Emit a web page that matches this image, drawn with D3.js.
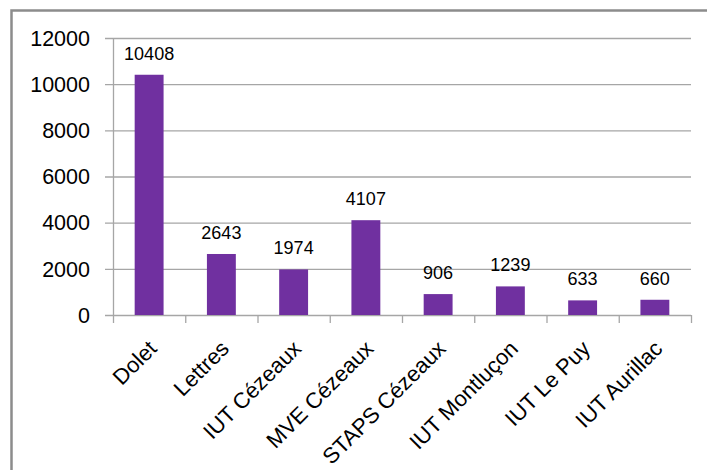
<!DOCTYPE html>
<html>
<head>
<meta charset="utf-8">
<script src="https://cdn.jsdelivr.net/npm/d3@7"></script>
<style>
  body { margin: 0; background: #fff; }
  text { font-family: "Liberation Sans", Arial, sans-serif; fill: #000; }
</style>
</head>
<body>
<svg id="chart" width="707" height="470"></svg>
<script>
const categories = ['Dolet', 'Lettres', 'IUT Cézeaux', 'MVE Cézeaux', 'STAPS Cézeaux', 'IUT Montluçon', 'IUT Le Puy', 'IUT Aurillac']
const values = [10408, 2643, 1974, 4107, 906, 1239, 633, 660]
const yTicks = [0, 2000, 4000, 6000, 8000, 10000, 12000]

const width = 707, height = 470
const plot = {left: 113, right: 691, top: 38, bottom: 315}

const svg = d3.select('#chart')

// outer frame (only top and left edges are inside the picture)
svg.append('rect')
   .attr('x', 11.5).attr('y', 10.5)
   .attr('width', 720).attr('height', 500)
   .attr('fill', 'none')
   .attr('stroke', '#8c8c8c')
   .attr('stroke-width', 2.5)

const x = d3.scaleBand().domain(categories).range([plot.left, plot.right]).paddingInner(0.6).paddingOuter(0.3)
const xTick = d3.scaleBand().domain(categories).range([plot.left, plot.right])
const y = d3.scaleLinear().domain([0, 12000]).range([plot.bottom, plot.top])

// gridlines
svg.append('g').selectAll('line').data(yTicks).enter().append('line')
   .attr('x1', plot.left - 8).attr('x2', plot.right)
   .attr('y1', d => y(d) + 0.5).attr('y2', d => y(d) + 0.5)
   .attr('stroke', '#a6a6a6').attr('stroke-width', 1.3)

// y axis line
svg.append('line')
   .attr('x1', plot.left + 0.5).attr('x2', plot.left + 0.5)
   .attr('y1', plot.top).attr('y2', plot.bottom)
   .attr('stroke', '#a6a6a6').attr('stroke-width', 1.3)

// x ticks
const xTickPos = categories.map(c => xTick(c)).concat([plot.right])
svg.append('g').selectAll('line').data(xTickPos).enter().append('line')
   .attr('x1', d => d + 0.5).attr('x2', d => d + 0.5)
   .attr('y1', plot.bottom).attr('y2', plot.bottom + 8)
   .attr('stroke', '#a6a6a6').attr('stroke-width', 1.3)

// y labels
svg.append('g').selectAll('text').data(yTicks).enter().append('text')
   .attr('x', 90).attr('y', d => y(d))
   .attr('dy', '0.36em')
   .attr('text-anchor', 'end')
   .style('font-size', '21.5px')
   .text(d => d)

// bars
svg.append('g').selectAll('rect').data(values).enter().append('rect')
   .attr('x', (d, i) => x(categories[i]))
   .attr('width', x.bandwidth())
   .attr('y', d => y(d))
   .attr('height', d => plot.bottom - y(d))
   .attr('fill', '#7030a0')

// value labels
svg.append('g').selectAll('text').data(values).enter().append('text')
   .attr('x', (d, i) => x(categories[i]) + x.bandwidth() / 2)
   .attr('y', d => y(d) - 15)
   .attr('text-anchor', 'middle')
   .style('font-size', '18px')
   .text(d => d)

// category labels, rotated
svg.append('g').selectAll('text').data(categories).enter().append('text')
   .attr('transform', d => `translate(${xTick(d) + xTick.bandwidth() / 2 + 9},350) rotate(-45)`)
   .attr('text-anchor', 'end')
   .style('font-size', '22px')
   .text(d => d)
</script>
</body>
</html>
